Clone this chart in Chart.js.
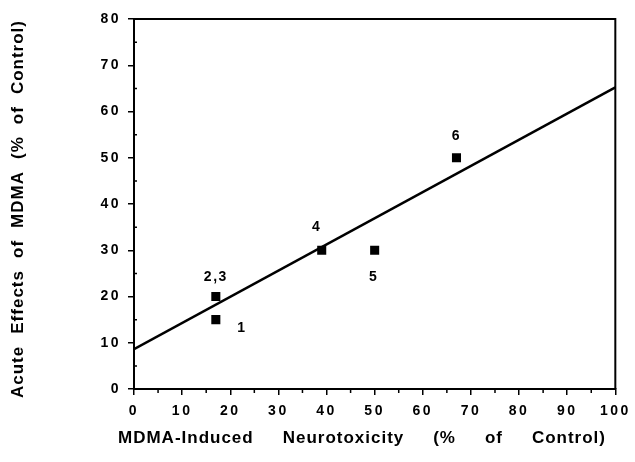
<!DOCTYPE html>
<html>
<head>
<meta charset="utf-8">
<script src="https://cdn.jsdelivr.net/npm/chart.js@4.4.0/dist/chart.umd.min.js"></script>
<style>
  html, body { margin: 0; padding: 0; background: #fff; }
  #wrap { width: 635px; height: 462px; }
</style>
</head>
<body>
<div id="wrap"><canvas id="scatterChart" width="635" height="462"></canvas></div>
<script>
// data
const pointLabels = ['1', '2,3', '4', '5', '6'];
const neurotoxicity = [17, 17, 39, 50, 67];
const acuteEffects = [15, 20, 30, 30, 50];
const fitX = [0, 100];
const fitY = [8.6, 65.2];
const xTicks = [0, 10, 20, 30, 40, 50, 60, 70, 80, 90, 100];
const yTicks = [0, 10, 20, 30, 40, 50, 60, 70, 80];
const xTitle = 'MDMA-Induced Neurotoxicity (% of Control)';
const yTitle = 'Acute Effects of MDMA (% of Control)';

// where each number label sits relative to its square (px)
const labelOffsets = [[26, 9], [0, -19], [-5, -23], [-1, 27], [0, -22]];

const points = neurotoxicity.map((x, i) => ({ x: x, y: acuteEffects[i] }));
const fitLine = fitX.map((x, i) => ({ x: x, y: fitY[i] }));

const FONT = '"Liberation Sans", Arial, sans-serif';

// draw a title stretched over a given width by widening the word gaps
function spreadText(ctx, text, cx, cy, width, letterSp) {
    ctx.letterSpacing = letterSp + 'px';
    ctx.wordSpacing = '0px';
    const plain = ctx.measureText(text).width;
    const gaps = text.split(' ').length - 1;
    ctx.wordSpacing = Math.max(0, (width - plain) / gaps) + 'px';
    ctx.fillText(text, cx, cy);
}

// box, minor ticks, point numbers and axis titles
const figurePlugin = {
    id: 'figurePlugin',
    beforeDraw(chart) {
        chart.ctx.letterSpacing = '2.5px';
    },
    afterDraw(chart) {
        const ctx = chart.ctx;
        const a = chart.chartArea;
        const xs = chart.scales.x;
        const ys = chart.scales.y;
        ctx.save();
        ctx.strokeStyle = '#000';
        ctx.lineWidth = 2;
        ctx.beginPath();
        ctx.moveTo(a.left, a.top);
        ctx.lineTo(a.right, a.top);
        ctx.lineTo(a.right, a.bottom);
        ctx.stroke();

        ctx.lineWidth = 1.5;
        ctx.beginPath();
        for (let v = 5; v < 100; v += 10) {
            const px = xs.getPixelForValue(v);
            ctx.moveTo(px, a.bottom);
            ctx.lineTo(px, a.bottom + 4);
        }
        for (let v = 5; v < 80; v += 10) {
            const py = ys.getPixelForValue(v);
            ctx.moveTo(a.left, py);
            ctx.lineTo(a.left + 3, py);
        }
        ctx.stroke();

        ctx.fillStyle = '#000';
        ctx.font = 'bold 14px ' + FONT;
        ctx.textAlign = 'center';
        ctx.textBaseline = 'middle';
        ctx.letterSpacing = '1.5px';
        pointLabels.forEach((t, i) => {
            const px = xs.getPixelForValue(neurotoxicity[i]) + labelOffsets[i][0];
            const py = ys.getPixelForValue(acuteEffects[i]) + labelOffsets[i][1];
            ctx.fillText(t, px, py);
        });

        ctx.font = 'bold 17px ' + FONT;
        spreadText(ctx, xTitle, 362, 438, 488, 1);
        ctx.save();
        ctx.translate(18, 209);
        ctx.rotate(-Math.PI / 2);
        spreadText(ctx, yTitle, 0, 0, 378, 1);
        ctx.restore();
        ctx.restore();
    }
};

const ctx = document.getElementById('scatterChart').getContext('2d');
const chart = new Chart(ctx, {
    type: 'scatter',
    data: {
        datasets: [{
            label: 'Compounds',
            data: points,
            pointStyle: 'rect',
            pointRadius: 6.4,
            pointHoverRadius: 6.4,
            backgroundColor: '#000',
            borderColor: '#000',
            borderWidth: 0
        }, {
            label: 'Fit',
            type: 'line',
            data: fitLine,
            borderColor: '#000',
            borderWidth: 2.5,
            pointRadius: 0,
            fill: false
        }]
    },
    options: {
        responsive: false,
        animation: false,
        layout: { padding: { top: 19, right: 19, left: 0, bottom: 0 } },
        plugins: {
            legend: { display: false },
            tooltip: { enabled: false }
        },
        scales: {
            x: {
                type: 'linear',
                min: 0,
                max: 100,
                afterBuildTicks: (scale) => { scale.ticks = xTicks.map(v => ({ value: v })); },
                afterFit: (scale) => { scale.height = 73; },
                border: { display: true, color: '#000', width: 2 },
                grid: { drawOnChartArea: false, drawTicks: true, tickLength: 6, color: '#000', lineWidth: 1.5 },
                ticks: {
                    color: '#000',
                    padding: 8,
                    maxRotation: 0,
                    font: { family: FONT, size: 14, weight: 'bold' }
                }
            },
            y: {
                type: 'linear',
                min: 0,
                max: 80,
                afterBuildTicks: (scale) => { scale.ticks = yTicks.map(v => ({ value: v })); },
                afterFit: (scale) => { scale.width = 134; },
                border: { display: true, color: '#000', width: 2 },
                grid: { drawOnChartArea: false, drawTicks: true, tickLength: 6, color: '#000', lineWidth: 1.5 },
                ticks: {
                    color: '#000',
                    padding: 7,
                    font: { family: FONT, size: 14, weight: 'bold' }
                }
            }
        }
    },
    plugins: [figurePlugin]
});
</script>
</body>
</html>
